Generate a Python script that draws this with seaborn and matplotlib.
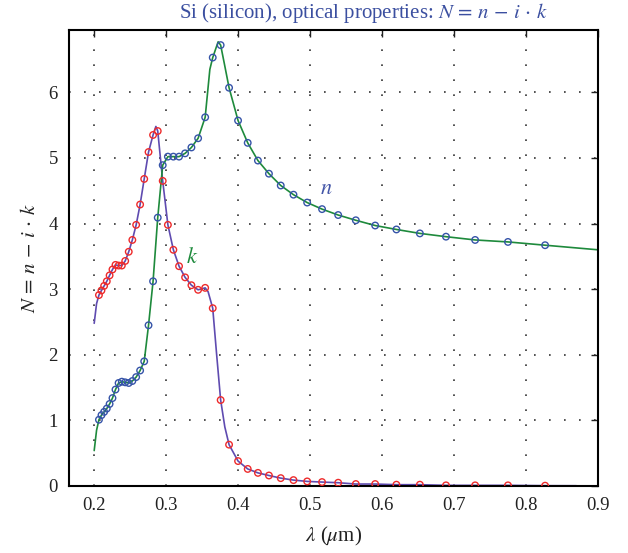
import numpy as np
import pandas as pd
import matplotlib
matplotlib.use('Agg')
import matplotlib.pyplot as plt
import seaborn as sns

# Messpunkte (Wellenlaenge in um)
wavelength = [0.2066, 0.2101, 0.2138, 0.2175, 0.2214, 0.2254, 0.2296, 0.2339, 0.2384, 0.2431,
              0.2480, 0.2530, 0.2583, 0.2638, 0.2695, 0.2755, 0.2818, 0.2883, 0.2952, 0.3024,
              0.3100, 0.3179, 0.3263, 0.3351, 0.3444, 0.3542, 0.3647, 0.3757, 0.3874, 0.3999,
              0.4133, 0.4275, 0.4428, 0.4592, 0.4769, 0.4959, 0.5166, 0.5390, 0.5635, 0.5904,
              0.6199, 0.6525, 0.6888, 0.7293, 0.7749, 0.8265]

n_values = [1.01, 1.08, 1.13, 1.18, 1.25, 1.34, 1.47, 1.57, 1.59, 1.58,
            1.57, 1.60, 1.66, 1.76, 1.90, 2.45, 3.12, 4.09, 4.89, 5.02,
            5.02, 5.02, 5.07, 5.16, 5.30, 5.62, 6.53, 6.72, 6.07, 5.57,
            5.23, 4.96, 4.76, 4.58, 4.44, 4.32, 4.22, 4.13, 4.05, 3.97,
            3.91, 3.85, 3.80, 3.75, 3.72, 3.67]

k_values = [2.91, 2.98, 3.05, 3.12, 3.21, 3.30, 3.37, 3.36, 3.36, 3.43,
            3.57, 3.75, 3.98, 4.29, 4.68, 5.09, 5.35, 5.41, 4.65, 3.98,
            3.60, 3.35, 3.18, 3.06, 2.99, 3.02, 2.71, 1.31, 0.63, 0.38,
            0.26, 0.20, 0.16, 0.12, 0.09, 0.07, 0.06, 0.05, 0.03, 0.03,
            0.02, 0.02, 0.01, 0.01, 0.01, 0.005]

# zusaetzliche Punkte der Modellkurven (Enden, Maxima)
n_curve_wl = [0.2000, 0.2033, 0.3607, 0.3722, 0.3806, 0.9000]
n_curve_val = [0.54, 0.85, 6.35, 6.77, 6.45, 3.60]
k_curve_wl = [0.2000, 0.2033, 0.2857, 0.3583, 0.3700, 0.3815, 0.8700]
k_curve_val = [2.48, 2.78, 5.48, 2.96, 2.02, 0.90, 0.004]

meas = pd.DataFrame({'wl': wavelength, 'n': n_values, 'k': k_values})
n_curve = pd.concat([meas[['wl', 'n']],
                     pd.DataFrame({'wl': n_curve_wl, 'n': n_curve_val})]).sort_values('wl')
k_curve = pd.concat([meas[['wl', 'k']],
                     pd.DataFrame({'wl': k_curve_wl, 'k': k_curve_val})]).sort_values('wl')

sns.set_theme(style='white')
plt.rcParams['font.family'] = ['Liberation Serif', 'DejaVu Serif']
plt.rcParams['mathtext.fontset'] = 'stix'

green = '#1e8a3c'
purple = '#5f4bb0'
blue = '#3553a8'
red = '#ee2a2a'

formula = r'$N\,=\,n\,-\,i\,\cdot\,k$'

fig = plt.figure(figsize=(6.28, 5.53), dpi=100)
ax = fig.add_axes([69 / 628, 1 - 486 / 553, 529 / 628, 456 / 553])

sns.lineplot(data=k_curve, x='wl', y='k', sort=False, color=purple, lw=1.2, ax=ax)
sns.lineplot(data=n_curve, x='wl', y='n', sort=False, color=green, lw=1.2, ax=ax)
sns.scatterplot(data=meas, x='wl', y='k', marker='o', s=22, fc='none', ec=red, lw=1.0, ax=ax, zorder=3)
sns.scatterplot(data=meas, x='wl', y='n', marker='o', s=22, fc='none', ec=blue, lw=1.0, ax=ax, zorder=3)

ax.set_xlim(0.165, 0.9)
ax.set_ylim(0, 6.95)
ax.set_xticks([0.2, 0.3, 0.4, 0.5, 0.6, 0.7, 0.8, 0.9])
ax.set_xticklabels(['0.2', '0.3', '0.4', '0.5', '0.6', '0.7', '0.8', '0.9'])
ax.set_yticks([0, 1, 2, 3, 4, 5, 6])
ax.grid(True, linestyle=(0, (1, 8)), color='#333333', lw=1.2)
ax.tick_params(direction='in', top=True, right=True, length=5, width=1,
               labelsize=13.5, colors='#222222', pad=8)
for s in ax.spines.values():
    s.set_color('black')
    s.set_linewidth(1.5)

ax.set_xlabel(r'$\lambda$ ($\mu$m)', fontsize=15, color='#222222', labelpad=8)
ax.set_ylabel(formula, fontsize=15, color='#222222', labelpad=6)

ax.text(0.522, 4.52, r'$n$', fontsize=16, color='#4456a8', ha='center', va='center')
ax.text(0.336, 3.48, r'$k$', fontsize=16, color=green, ha='center', va='center')

fig.text(363 / 628, 1 - 13 / 553, 'Si (silicon), optical properties: ' + formula,
         fontsize=15, color='#3b4fa0', ha='center', va='center')

fig.savefig('out.png', dpi=100)
